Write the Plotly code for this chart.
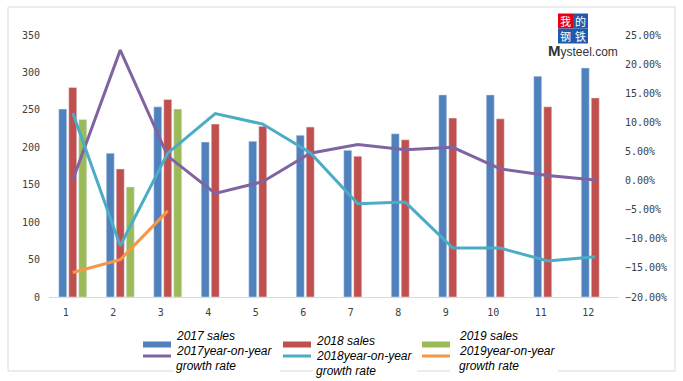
import plotly.graph_objects as go

months = [str(i) for i in range(1, 13)]
sales_2017 = [251, 192, 254, 207, 208, 216, 196, 218, 270, 270, 295, 306]
sales_2018 = [280, 171, 264, 231, 228, 227, 188, 210, 239, 238, 254, 266]
sales_2019 = [237, 147, 251, None, None, None, None, None, None, None, None, None]
yoy_2017 = [0.1, 22.4, 4.2, -2.2, -0.2, 4.7, 6.2, 5.3, 5.7, 2.0, 0.85, 0.1]
yoy_2018 = [11.6, -11.2, 4.7, 11.5, 9.7, 4.8, -4.0, -3.7, -11.6, -11.6, -13.8, -13.1]
yoy_2019 = [-15.8, -13.6, -5.2, None, None, None, None, None, None, None, None, None]

C_BLUE, C_RED, C_GREEN = "#4F81BD", "#C0504D", "#9BBB59"
C_PURPLE, C_CYAN, C_ORANGE = "#8064A2", "#4BACC6", "#F79646"

W_FIG, H_FIG = 683, 381
L, R, T, B = 49, 64, 35, 84
PW, PH = W_FIG - L - R, H_FIG - T - B


def px(x):
    return (x - L) / PW


def py(y):
    return (H_FIG - B - y) / PH


fig = go.Figure()
fig.add_trace(go.Bar(x=months, y=sales_2017, name="2017 sales", marker_color=C_BLUE))
fig.add_trace(go.Bar(x=months, y=sales_2018, name="2018 sales", marker_color=C_RED))
fig.add_trace(go.Bar(x=months, y=sales_2019, name="2019 sales", marker_color=C_GREEN))
fig.add_trace(go.Scatter(x=months, y=yoy_2017, yaxis="y2", mode="lines",
                         line=dict(color=C_PURPLE, width=3), name="2017yoy"))
fig.add_trace(go.Scatter(x=months, y=yoy_2018, yaxis="y2", mode="lines",
                         line=dict(color=C_CYAN, width=3), name="2018yoy"))
fig.add_trace(go.Scatter(x=months, y=yoy_2019, yaxis="y2", mode="lines",
                         line=dict(color=C_ORANGE, width=3), name="2019yoy"))

tick_font = dict(family="DejaVu Sans Mono", size=10, color="#404040")

shapes = [
    dict(type="rect", xref="paper", yref="paper", x0=px(8), x1=px(675), y0=py(371), y1=py(7),
         line=dict(color="#D9D9D9", width=1), layer="below"),
]
# white patches behind legend text blocks
for x0, x1 in [(173, 280), (313, 417), (450, 558)]:
    shapes.append(dict(type="rect", xref="paper", yref="paper", x0=px(x0), x1=px(x1),
                       y0=py(376), y1=py(364), fillcolor="white", line=dict(width=0)))

annotations = []
legend_cols = [
    (143, 177, C_BLUE, C_PURPLE, ["2017 sales", "2017year-on-year", "growth rate"], 0),
    (283, 317, C_RED, C_CYAN, ["2018 sales", "2018year-on-year", "growth rate"], 5),
    (422, 460, C_GREEN, C_ORANGE, ["2019 sales", "2019year-on-year", "growth rate"], 0),
]
for sx, tx, bc, lc, texts, dy in legend_cols:
    shapes.append(dict(type="rect", xref="paper", yref="paper", x0=px(sx), x1=px(sx + 28),
                       y0=py(347.5), y1=py(341.5), fillcolor=bc, line=dict(width=0)))
    shapes.append(dict(type="line", xref="paper", yref="paper", x0=px(sx), x1=px(sx + 28),
                       y0=py(356), y1=py(356), line=dict(color=lc, width=3)))
    for i, t in enumerate(texts):
        annotations.append(dict(text=f"<i>{t}</i>", xref="paper", yref="paper",
                                x=px(tx - 2), y=py(335.7 + dy + 15 * i),
                                xanchor="left", yanchor="middle", showarrow=False,
                                borderpad=0,
                                font=dict(family="Liberation Sans", size=12, color="#000000")))

# logo: coloured tiles as shapes, characters as text on top
for ch, cx, cy, bg in [("我", 565.5, 21.0, "#E60012"), ("的", 580.5, 21.0, "#1F5AAE"),
                       ("钢", 565.5, 36.0, "#1F5AAE"), ("铁", 580.5, 36.0, "#1F5AAE")]:
    shapes.append(dict(type="rect", xref="paper", yref="paper",
                       x0=px(cx - 7.5), x1=px(cx + 7.5), y0=py(cy + 7.5), y1=py(cy - 7.5),
                       fillcolor=bg, line=dict(width=0)))
    annotations.append(dict(text=ch, xref="paper", yref="paper", x=px(cx), y=py(cy),
                            xanchor="center", yanchor="middle", showarrow=False,
                            borderpad=0, borderwidth=0,
                            font=dict(family="Noto Sans CJK SC", size=11, color="white")))
annotations.append(dict(text="<b><span style='font-size:15px'>M</span></b>ysteel.com",
                        xref="paper", yref="paper",
                        x=px(583), y=py(50), xanchor="center", yanchor="middle",
                        showarrow=False, borderpad=0,
                        font=dict(family="Liberation Sans", size=12, color="#333333")))

fig.update_layout(
    width=W_FIG, height=H_FIG,
    margin=dict(l=L, r=R, t=T, b=B),
    paper_bgcolor="white", plot_bgcolor="white",
    barmode="group", bargap=0.368, bargroupgap=0.2,
    showlegend=False,
    xaxis=dict(type="category", showline=True, linecolor="#D9D9D9", linewidth=1,
               showgrid=False, ticks="", tickfont=tick_font, ticklabelshift=-7,
               ticklabelstandoff=6),
    yaxis=dict(range=[0, 350], dtick=50, showgrid=False, zeroline=False, showline=False,
               ticks="", tickfont=tick_font, ticklabelstandoff=8),
    yaxis2=dict(range=[-20, 25], dtick=5, overlaying="y", side="right", showgrid=False,
                zeroline=False, showline=False, ticks="", tickformat=".2f", ticksuffix="%",
                tickfont=tick_font, ticklabelstandoff=5),
    shapes=shapes,
    annotations=annotations,
)

fig.write_html("out.html", config={"displayModeBar": False},
               post_script="document.body.style.margin='0';document.body.style.overflow='hidden';")
